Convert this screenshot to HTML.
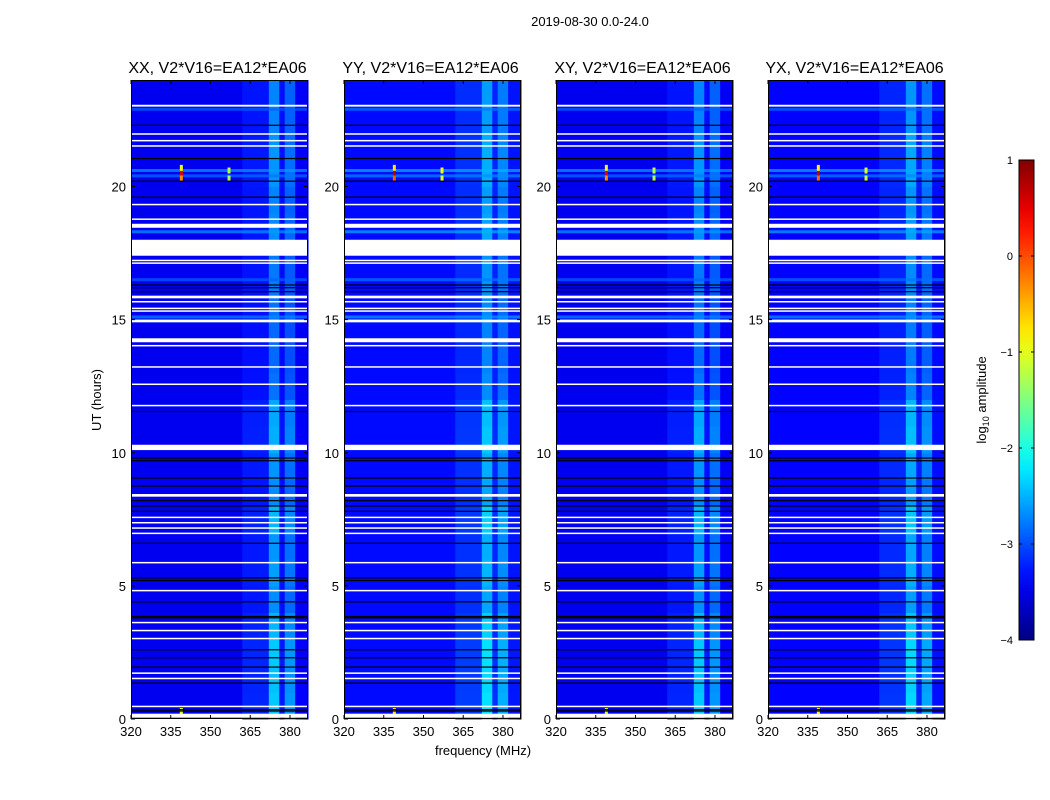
<!DOCTYPE html>
<html><head><meta charset="utf-8">
<style>
body{margin:0;background:#fff;width:1050px;height:800px;overflow:hidden;font-family:"Liberation Sans",sans-serif;}
#root{position:relative;width:1050px;height:800px;}
</style></head>
<body><div id="root">
<svg id="svg" width="1050" height="800" style="position:absolute;left:0;top:0"></svg>
</div>
<script>
// ---- data ----
const panels = ["XX, V2*V16=EA12*EA06","YY, V2*V16=EA12*EA06","XY, V2*V16=EA12*EA06","YX, V2*V16=EA12*EA06"];
const panelOffset = [0, 0.12, 0, 0.08];
const panelLeft = [131, 344, 556, 768];
const xTicks = [320,335,350,365,380];
const yTicks = [0,5,10,15,20];
const cbTicks = [1,0,-1,-2,-3,-4];
const baseLevel = -3.45;
// frequency segments [fStart,fEnd,level]
const freqSegStart = [320,362,372,376,378,382];
const freqSegEnd   = [362,372,376,378,382,387];
const freqSegLevel = [-3.45,-3.25,-2.6,-3.3,-2.8,-3.4];
// per-hour gain of RFI columns (hours 0..23)
const rfiGain = [1.25,1.2,1.25,1.15,0.9,1.0,0.95,1.15,0.9,0.95,1.1,1.05,0.75,0.7,0.7,0.75,0.8,0.8,0.9,0.85,0.95,0.95,0.85,0.85];
// flagged (white) time ranges
const flagStart = [23.0,21.95,21.7,21.5,19.3,18.75,18.45,17.4,17.2,17.1,15.8,15.65,15.4,15.3,14.9,14.15,14.0,13.2,12.55,11.75,10.1,8.35,7.55,7.35,7.15,6.95,5.85,4.8,3.6,3.3,3.0,1.7,1.5,0.45,0.05];
const flagEnd   = [23.07,22.0,21.75,21.55,19.35,18.8,18.6,18.0,17.25,17.15,15.9,15.7,15.45,15.35,15.0,14.3,14.05,13.25,12.6,11.8,10.3,8.45,7.6,7.4,7.2,7.0,5.9,4.85,3.65,3.35,3.05,1.75,1.55,0.5,0.2];
// black lines (hours)
const blackLines = [22.3,21.05,20.2,19.6,16.3,16.2,16.05,11.55,9.8,9.7,9.05,8.75,8.2,8.0,7.8,6.6,5.3,5.2,4.4,3.85,3.8,2.6,2.3,1.95,1.35,0.35,0.3];
// bright horizontal bands
const bandHour = [22.9,20.6,20.4,18.3,16.5,15.1,14.95];
const bandLevel = [-2.9,-2.6,-2.8,-2.6,-2.9,-2.7,-2.8];
// point sources
const srcFreq = [339,339,339,357,357,339];
const srcHour = [20.5,20.3,20.7,20.6,20.3,0.3];
const srcLevel = [0.5,-0.3,-1.0,-1.2,-1.3,-1.0];

// ---- axes ----
const PW = 177, TOP = 80, BOT = 719;
const F0 = 320, F1 = 386.8, H0 = 0, H1 = 24;
function xs(p,f){return panelLeft[p] + (f-F0)/(F1-F0)*PW;}
function ys(h){return BOT - (h-H0)/(H1-H0)*(BOT-TOP);}
function jet(v){
  let t=Math.max(0,Math.min(1,(v+4)/5));
  const c=x=>Math.round(255*Math.max(0,Math.min(1,x)));
  const r=c(Math.min(4*t-1.5,-4*t+4.5)), g=c(Math.min(4*t-0.5,-4*t+3.5)), b=c(Math.min(4*t+0.5,-4*t+2.5));
  return `rgb(${r},${g},${b})`;
}
const NS="http://www.w3.org/2000/svg";
const svg=document.getElementById('svg');
function mk(tag,attrs,parent){const e=document.createElementNS(NS,tag);for(const k in attrs)e.setAttribute(k,attrs[k]);(parent||svg).appendChild(e);return e;}
function txt(x,y,s,size,anchor,parent){const e=mk('text',{x:x,y:y,'font-size':size,'text-anchor':anchor||'middle','font-family':'Liberation Sans, sans-serif'},parent);e.textContent=s;return e;}

panels.forEach((name,p)=>{
  const g=mk('g',{});
  
  
  const bg=mk('rect',{x:panelLeft[p],y:TOP,width:PW,height:BOT-TOP,fill:jet(baseLevel+panelOffset[p])},g);
  
  
  for(let h=0;h<24;h++){
    for(let i=0;i<freqSegStart.length;i++){
      const lv=freqSegLevel[i];
      if(lv<=baseLevel) continue;
      const v=baseLevel+(lv-baseLevel)*rfiGain[h]+panelOffset[p];
      const r=mk('rect',{x:xs(p,freqSegStart[i]),y:ys(h+1),width:xs(p,freqSegEnd[i])-xs(p,freqSegStart[i]),height:ys(h)-ys(h+1)+0.5,fill:jet(v)},g);
      
      
    }
  }
  bandHour.forEach((h,i)=>{
    const r=mk('rect',{x:panelLeft[p],y:ys(h)-1.5,width:PW,height:3,fill:jet(bandLevel[i]+panelOffset[p]),opacity:0.7},g);
    
    
  });
  srcFreq.forEach((f,i)=>{
    const r=mk('rect',{x:xs(p,f)-1.5,y:ys(srcHour[i])-3,width:3,height:6,fill:jet(srcLevel[i]+panelOffset[p]*2)},g);
    
    
  });
  blackLines.forEach(h=>{
    const r=mk('rect',{x:panelLeft[p],y:ys(h)-0.6,width:PW,height:1.2,fill:'#000'},g);
    
    
  });
  flagStart.forEach((s,i)=>{
    const y1=ys(flagEnd[i]), y2=ys(s);
    const r=mk('rect',{x:panelLeft[p],y:y1,width:PW,height:Math.max(1.5,y2-y1),fill:'#fff'},g);
    
    
  });
  mk('rect',{x:panelLeft[p]+0.5,y:TOP+0.5,width:PW-1,height:BOT-TOP-1,fill:'none',stroke:'#000','stroke-width':1},g);
  xTicks.forEach(f=>{
    const x=xs(p,f);
    mk('line',{x1:x,x2:x,y1:BOT,y2:BOT-4,stroke:'#000'},g);
    mk('line',{x1:x,x2:x,y1:TOP,y2:TOP+4,stroke:'#000'},g);
    const t=txt(x,BOT+17,String(f),13,'middle',g);
    
    
  });
  yTicks.forEach(h=>{
    const y=ys(h);
    mk('line',{x1:panelLeft[p],x2:panelLeft[p]+4,y1:y,y2:y,stroke:'#000'},g);
    mk('line',{x1:panelLeft[p]+PW,x2:panelLeft[p]+PW-4,y1:y,y2:y,stroke:'#000'},g);
    const t=txt(panelLeft[p]-5,y+5,String(h),13,'end',g);
    
    
  });
  const tt=txt(panelLeft[p]+PW/2-2,73,name,16,'middle',g);
  
  
});

const st=txt(590,26,'2019-08-30 0.0-24.0',13);


const xl=txt(483,755,'frequency (MHz)',13);


const yl=txt(0,0,'UT (hours)',13);
yl.setAttribute('transform','translate(101,400) rotate(-90)');



const defs=mk('defs',{});
const grad=mk('linearGradient',{id:'jetg',x1:0,y1:1,x2:0,y2:0},defs);
for(let i=0;i<=20;i++){mk('stop',{offset:i/20,'stop-color':jet(-4+5*i/20)},grad);}
const CBT=160,CBB=640;
const cb=mk('rect',{x:1019,y:CBT,width:15,height:CBB-CBT,fill:'url(#jetg)',stroke:'#000','stroke-width':1});


cbTicks.forEach(v=>{
  const y=CBB-(v+4)/5*(CBB-CBT);
  mk('line',{x1:1019,x2:1022,y1:y,y2:y,stroke:'#000'});
  mk('line',{x1:1034,x2:1031,y1:y,y2:y,stroke:'#000'});
  const t=txt(1013,y+4,v<0?'\u2212'+(-v):String(v),11,'end');
  
  
});
const cl=mk('text',{'font-size':13,'text-anchor':'middle','font-family':'Liberation Sans, sans-serif',transform:'translate(986,400) rotate(-90)'});
cl.innerHTML='log<tspan font-size="9" dy="3">10</tspan><tspan dy="-3"> amplitude</tspan>';


</script>
</body></html>
